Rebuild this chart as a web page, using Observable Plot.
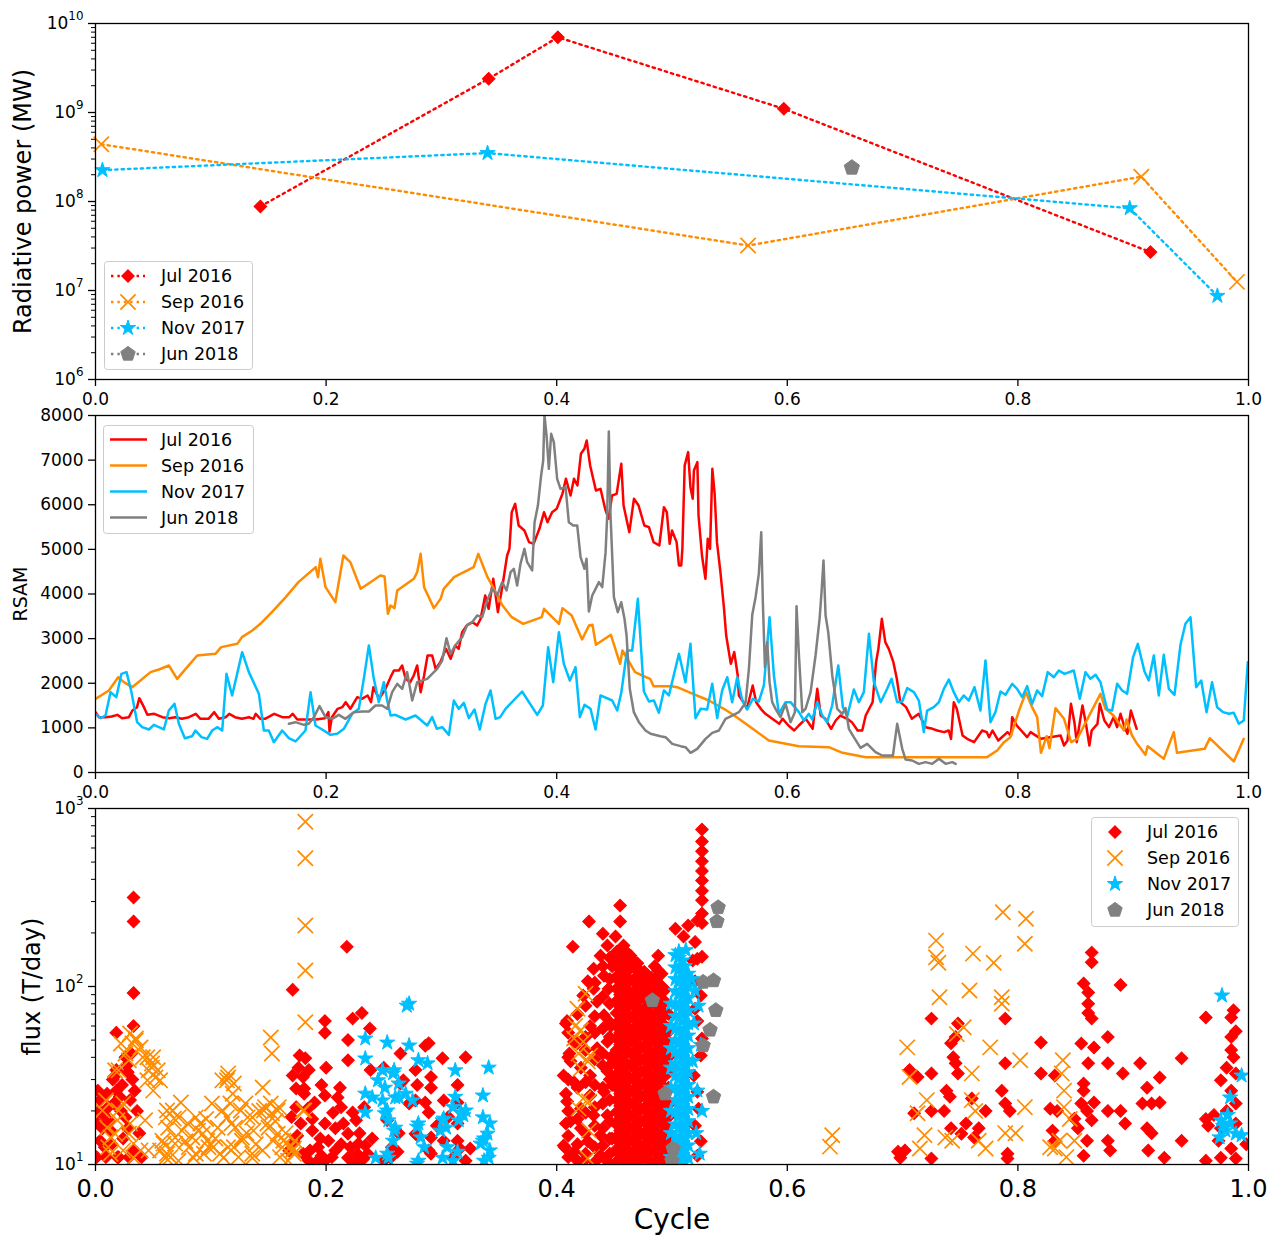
<!DOCTYPE html>
<html>
<head>
<meta charset="utf-8">
<script src="https://cdn.jsdelivr.net/npm/d3@7"></script>
<script src="https://cdn.jsdelivr.net/npm/@observablehq/plot@0.6"></script>
<style>
html,body{margin:0;padding:0;background:#fff;}
#wrap{position:relative;width:1268px;height:1236px;overflow:hidden;font-family:"DejaVu Sans",sans-serif;background:#fff;}
.pnl{position:absolute;left:0;}
</style>
</head>
<body>
<div id="wrap"></div>
<script>
// ---------- categories / ticks ----------
const seriesNames = ["Jul 2016", "Sep 2016", "Nov 2017", "Jun 2018"];
const seriesColors = ["#ff0000", "#ff8c00", "#00bfff", "#808080"];
const xTicks = [0, 0.2, 0.4, 0.6, 0.8, 1.0];
const powerTicks = [1e6, 1e7, 1e8, 1e9, 1e10];
const rsamTicks = [0, 1000, 2000, 3000, 4000, 5000, 6000, 7000, 8000];
const fluxTicks = [10, 100, 1000];

// ---------- panel 1: radiative power [cycle, MW] ----------
const powerJul = [[0.143, 8.8e7], [0.341, 2.4e9], [0.401, 7.0e9], [0.597, 1.1e9], [0.915, 2.7e7]];
const powerSep = [[0.005, 4.4e8], [0.566, 3.2e7], [0.907, 1.9e8], [0.990, 1.25e7]];
const powerNov = [[0.006, 2.25e8], [0.340, 3.5e8], [0.897, 8.4e7], [0.973, 8.7e6]];
const powerJun = [[0.656, 2.4e8]];

// ---------- panel 2: RSAM [cycle, RSAM] ----------
const rsamJul = [[0,1352],[0.003,1240],[0.009,1240],[0.014,1255],[0.019,1292],[0.023,1218],[0.029,1240],[0.032,1390],[0.036,1464],[0.038,1666],[0.042,1464],[0.045,1292],[0.051,1315],[0.058,1240],[0.064,1218],[0.069,1240],[0.075,1203],[0.081,1240],[0.087,1315],[0.091,1203],[0.098,1203],[0.103,1352],[0.107,1203],[0.113,1240],[0.116,1315],[0.121,1240],[0.127,1203],[0.133,1240],[0.137,1203],[0.139,1315],[0.143,1203],[0.147,1203],[0.155,1315],[0.162,1240],[0.168,1240],[0.171,1315],[0.175,1188],[0.182,1188],[0.191,1188],[0.199,1218],[0.202,1352],[0.203,919],[0.205,1240],[0.210,1427],[0.214,1464],[0.217,1576],[0.221,1427],[0.227,1688],[0.231,1651],[0.236,1726],[0.239,1576],[0.241,1912],[0.246,1651],[0.2515,1875],[0.2559,2136],[0.2588,2286],[0.2631,2286],[0.266,2398],[0.269,2099],[0.273,2024],[0.276,2174],[0.279,2398],[0.282,1800],[0.285,2174],[0.288,2622],[0.292,2622],[0.295,2323],[0.299,2473],[0.304,2771],[0.308,2547],[0.312,2846],[0.315,2771],[0.318,3145],[0.322,3294],[0.327,3369],[0.331,3294],[0.334,3444],[0.338,3967],[0.341,3668],[0.345,4340],[0.349,3593],[0.353,4191],[0.357,4863],[0.359,5012],[0.361,5834],[0.364,6021],[0.367,5535],[0.372,5423],[0.376,5162],[0.380,5124],[0.385,5461],[0.389,5834],[0.392,5610],[0.396,5834],[0.400,5909],[0.405,6245],[0.408,6581],[0.412,6208],[0.415,6581],[0.418,6432],[0.421,7141],[0.424,7253],[0.426,7440],[0.429,6880],[0.434,6320],[0.438,6357],[0.442,5909],[0.445,5685],[0.448,6208],[0.452,6245],[0.456,6917],[0.458,5983],[0.463,5386],[0.467,6133],[0.471,5983],[0.476,5535],[0.480,5498],[0.484,5162],[0.489,5087],[0.493,5946],[0.4955,5834],[0.498,5124],[0.500,5423],[0.504,5162],[0.506,4639],[0.508,4639],[0.509,5012],[0.511,6880],[0.514,7179],[0.516,6394],[0.518,6133],[0.519,6768],[0.522,6955],[0.523,5759],[0.526,4863],[0.529,4340],[0.531,5236],[0.533,5012],[0.535,6805],[0.537,6245],[0.539,5162],[0.542,4489],[0.545,3705],[0.547,3070],[0.551,2435],[0.554,2697],[0.557,2174],[0.558,1726],[0.562,1576],[0.565,1427],[0.570,1950],[0.573,1576],[0.577,1427],[0.581,1315],[0.587,1203],[0.593,1091],[0.596,1203],[0.601,1053],[0.606,941],[0.610,1053],[0.616,1203],[0.622,979],[0.626,1875],[0.629,1277],[0.633,1203],[0.638,979],[0.642,1165],[0.646,1277],[0.652,1203],[0.656,1128],[0.661,941],[0.665,941],[0.668,1277],[0.674,1576],[0.677,2473],[0.679,2771],[0.682,3444],[0.685,2921],[0.688,2771],[0.692,2473],[0.695,2099],[0.698,1576],[0.703,1464],[0.708,1203],[0.714,1315],[0.720,1016],[0.726,979],[0.730,941],[0.736,904],[0.740,941],[0.742,754],[0.7444,1576],[0.747,1427],[0.752,829],[0.756,754],[0.762,680],[0.769,941],[0.773,904],[0.775,792],[0.778,941],[0.783,717],[0.791,904],[0.794,829],[0.795,1240],[0.799,1053],[0.808,792],[0.811,904],[0.820,754],[0.828,792],[0.837,829],[0.840,605],[0.843,717],[0.846,1539],[0.849,1128],[0.851,680],[0.856,1501],[0.859,1091],[0.862,605],[0.864,941],[0.869,1091],[0.871,1539],[0.875,1165],[0.879,1016],[0.883,1240],[0.886,1016],[0.889,1315],[0.892,1053],[0.895,867],[0.898,1389],[0.903,979]];
const rsamSep = [[0,1651],[0.0116,1838],[0.0197,2136],[0.0246,2024],[0.0318,1912],[0.039,2062],[0.0477,2249],[0.055,2308],[0.0636,2398],[0.0708,2099],[0.0795,2361],[0.0882,2622],[0.104,2659],[0.109,2809],[0.123,2883],[0.127,3033],[0.136,3182],[0.143,3332],[0.153,3593],[0.165,3929],[0.176,4265],[0.191,4602],[0.193,4377],[0.195,4788],[0.1995,4153],[0.208,3817],[0.215,4863],[0.221,4714],[0.230,4116],[0.2385,4265],[0.247,4415],[0.2507,4392],[0.2536,3556],[0.2559,3742],[0.2593,3683],[0.2617,4079],[0.2761,4340],[0.279,4489],[0.282,4900],[0.285,4153],[0.2935,3683],[0.2993,3892],[0.302,4116],[0.311,4377],[0.328,4602],[0.332,4900],[0.340,4377],[0.347,4041],[0.353,3742],[0.361,3481],[0.371,3332],[0.387,3481],[0.389,3668],[0.402,3332],[0.405,3683],[0.413,3518],[0.422,2981],[0.428,3294],[0.431,3309],[0.434,2861],[0.447,3085],[0.455,2435],[0.457,2734],[0.468,2249],[0.474,2174],[0.481,2099],[0.484,1935],[0.4995,1935],[0.5045,1912],[0.5146,1800],[0.532,1613],[0.545,1427],[0.554,1277],[0.570,979],[0.584,717],[0.610,590],[0.636,568],[0.648,441],[0.668,344],[0.697,344],[0.7733,344],[0.782,493],[0.788,680],[0.7935,792],[0.801,1389],[0.807,1800],[0.8123,1464],[0.8167,1240],[0.820,441],[0.825,814],[0.8274,545],[0.8326,1442],[0.840,1203],[0.8462,680],[0.8514,754],[0.8716,1763],[0.876,1427],[0.883,1277],[0.892,941],[0.8942,1188],[0.899,829],[0.9034,642],[0.9106,396],[0.9126,590],[0.9265,306],[0.9352,904],[0.938,441],[0.962,530],[0.9664,769],[0.9872,247],[0.9959,754]];
const rsamNov = [[0,1315],[0.0043,1218],[0.0087,1277],[0.013,1800],[0.018,1688],[0.0225,2211],[0.0269,2249],[0.0312,1800],[0.0361,1128],[0.0405,1016],[0.0463,964],[0.0506,1068],[0.0593,964],[0.0636,1389],[0.0685,1539],[0.0723,1091],[0.0775,769],[0.0838,814],[0.0867,941],[0.0919,792],[0.0968,754],[0.1012,941],[0.1055,1016],[0.1099,941],[0.1136,2211],[0.1185,1726],[0.1272,2697],[0.133,2249],[0.1417,1763],[0.146,941],[0.1503,941],[0.1547,680],[0.1619,941],[0.1677,769],[0.1735,695],[0.1821,941],[0.1865,1800],[0.1908,1053],[0.198,941],[0.2038,844],[0.2096,867],[0.2154,979],[0.2226,1315],[0.2284,1427],[0.2327,2099],[0.2371,2846],[0.2414,2099],[0.2457,1576],[0.2501,2024],[0.253,1613],[0.2559,1277],[0.260,1292],[0.269,1188],[0.2775,1277],[0.2877,1053],[0.292,1240],[0.296,979],[0.3007,1016],[0.3065,844],[0.3108,1613],[0.315,1427],[0.3195,1561],[0.3238,1218],[0.3287,1412],[0.3333,964],[0.3383,1539],[0.3426,1838],[0.347,1203],[0.351,1240],[0.3556,1427],[0.370,1815],[0.3831,1292],[0.388,1501],[0.3926,2809],[0.397,2024],[0.4019,3145],[0.4062,2435],[0.4114,2062],[0.4163,2361],[0.4201,1240],[0.4241,1516],[0.4293,1427],[0.4337,964],[0.438,1726],[0.4481,1613],[0.4525,1389],[0.456,1785],[0.461,2734],[0.4655,2734],[0.4704,3892],[0.4756,1815],[0.480,1591],[0.4843,1613],[0.4886,1337],[0.493,1838],[0.4973,1726],[0.506,2659],[0.5117,2024],[0.516,2883],[0.5204,1218],[0.5248,1427],[0.5305,1412],[0.5349,1987],[0.5392,1218],[0.5435,1838],[0.5479,2136],[0.5522,1576],[0.5566,2136],[0.561,1613],[0.5652,1412],[0.5701,1651],[0.5753,1591],[0.5797,1950],[0.5846,3481],[0.5884,2174],[0.5927,1315],[0.5985,1576],[0.6028,1576],[0.6101,1352],[0.6144,1165],[0.6187,1315],[0.6216,1188],[0.626,1576],[0.6303,1277],[0.6346,1128],[0.6389,1501],[0.6442,2398],[0.6482,1464],[0.652,1262],[0.6577,1860],[0.6621,1576],[0.6664,1800],[0.6708,3108],[0.6751,2024],[0.681,1576],[0.6866,1875],[0.6904,2099],[0.6953,1576],[0.6997,1591],[0.704,1890],[0.7098,1800],[0.7141,1613],[0.7184,904],[0.7213,1389],[0.7271,1464],[0.7315,1576],[0.7358,1875],[0.7401,2084],[0.7444,1800],[0.7487,1576],[0.753,1726],[0.7574,1613],[0.7623,1912],[0.7675,1389],[0.7719,2510],[0.7762,1128],[0.7805,1352],[0.7849,1815],[0.7892,1741],[0.795,1987],[0.7993,1875],[0.8037,1688],[0.808,1935],[0.8123,1539],[0.8167,1838],[0.821,1711],[0.8259,2249],[0.8311,2136],[0.8355,2286],[0.8404,2211],[0.8485,2286],[0.8537,1651],[0.8586,2249],[0.8629,2099],[0.8673,2189],[0.8716,2024],[0.8774,1412],[0.8817,1389],[0.8861,1987],[0.8904,1838],[0.8947,1763],[0.8999,2585],[0.904,2883],[0.9098,2263],[0.9135,2062],[0.9179,2622],[0.9222,1726],[0.9265,2637],[0.9309,1875],[0.9358,1741],[0.941,2861],[0.9453,3332],[0.9497,3481],[0.9546,1912],[0.959,2062],[0.9636,1352],[0.9684,2024],[0.9728,1464],[0.978,1352],[0.9829,1315],[0.9872,1337],[0.9916,1091],[0.9959,1165],[0.9994,2473]];
const rsamJun = [[0.1677,1091],[0.1735,1128],[0.1807,1068],[0.185,1091],[0.1894,1240],[0.1943,1487],[0.1995,1240],[0.2053,1203],[0.211,1292],[0.2168,1203],[0.224,1352],[0.2313,1367],[0.2371,1367],[0.2428,1501],[0.2486,1501],[0.253,1427],[0.2573,1800],[0.2617,1987],[0.266,1875],[0.2703,2249],[0.2747,1613],[0.279,2024],[0.2877,2099],[0.2963,2323],[0.3007,2510],[0.3044,3010],[0.3079,2659],[0.312,2846],[0.318,3033],[0.3224,3309],[0.3267,3369],[0.331,3518],[0.3354,3481],[0.3397,3855],[0.344,4116],[0.3484,3967],[0.3527,4265],[0.3565,4079],[0.36,4489],[0.3628,4564],[0.3657,4191],[0.3686,4676],[0.372,5012],[0.3744,4714],[0.3787,4527],[0.3808,5610],[0.3837,5983],[0.3865,6656],[0.3883,6992],[0.3894,8000],[0.3912,7552],[0.3932,6805],[0.3952,7590],[0.3975,7403],[0.4004,6581],[0.4033,6357],[0.4077,6394],[0.4105,5610],[0.4143,5535],[0.4178,5535],[0.4207,4826],[0.4241,4564],[0.4259,4788],[0.4279,3608],[0.4308,3967],[0.4337,4116],[0.4366,4265],[0.4395,4153],[0.4424,4938],[0.4438,5759],[0.4452,7642],[0.4467,5759],[0.4496,3929],[0.453,3593],[0.456,3817],[0.4588,3444],[0.4606,3070],[0.4634,1875],[0.4669,1352],[0.4713,1128],[0.477,941],[0.4814,867],[0.49,814],[0.4944,792],[0.5002,642],[0.5074,590],[0.5117,568],[0.5161,441],[0.5219,530],[0.5291,754],[0.5349,889],[0.5407,941],[0.5464,1203],[0.5522,1277],[0.558,1352],[0.5638,1561],[0.5667,2323],[0.5696,3533],[0.5725,3929],[0.5753,4452],[0.5774,5386],[0.5788,3817],[0.5806,2361],[0.5826,2921],[0.5846,2024],[0.5869,1576],[0.5898,1427],[0.5941,1240],[0.5985,1539],[0.6028,1128],[0.6066,1352],[0.608,3727],[0.6101,2622],[0.613,1352],[0.6158,1427],[0.6202,1800],[0.6245,2622],[0.628,3444],[0.6297,4041],[0.6314,4751],[0.6332,3518],[0.6355,3145],[0.639,2174],[0.6433,1427],[0.6476,1315],[0.6505,1442],[0.6534,979],[0.6577,792],[0.6635,553],[0.6693,642],[0.6765,456],[0.6823,381],[0.6916,381],[0.6953,1091],[0.6997,530],[0.7026,291],[0.7083,269],[0.7141,194],[0.7199,232],[0.7257,194],[0.7315,306],[0.7373,194],[0.7431,232],[0.746,194]];

// ---------- panel 3: flux [cycle, T/day] ----------
const fluxJul = [
[0.033,316],[0.033,232],[0.033,92],[0.033,60],[0.018,55],[0.031,42],[0.026,40],[0.027,36],[0.018,34],[0.028,33],[0.016,31],[0.015,30],[0.032,30],[0.023,28],[0.018,26],[0.034,26],[0.002,26],[0.010,25],[0.021,24],[0.004,23],[0.030,23],[0.016,22],[0.011,21],[0.003,20],[0.022,20],[0.036,20],[0.007,19],[0.026,18.4],[0.012,17.5],[0.002,17],[0.006,16],[0.028,16],[0.013,15.5],[0.038,15],[0.024,14],[0.004,13.6],[0.014,13],[0.008,12.5],[0.033,12],[0.009,11],[0.019,11],[0.020,11],[0.029,11],[0.040,11],[0.001,11],
[0.218,167],[0.171,96],[0.231,71],[0.223,66],[0.199,64],[0.238,58],[0.199,55],[0.219,50],[0.177,41],[0.182,39.5],[0.219,38.5],[0.176,35],[0.185,34],[0.2385,34],[0.171,31.6],[0.180,31],[0.174,26.7],[0.181,26.7],[0.181,25],[0.199,24.4],[0.210,23.8],[0.190,22.3],[0.174,21],[0.213,21],[0.184,20.6],[0.223,19.6],[0.170,18.5],[0.178,17],[0.199,17],[0.215,17],[0.226,17.7],[0.208,16],[0.188,15.5],[0.219,14.9],[0.175,14.5],[0.202,13.6],[0.228,13.1],[0.234,12.8],[0.193,12.5],[0.168,12],[0.208,12],[0.180,11.5],[0.227,11.5],[0.196,11.2],[0.219,10.9],[0.232,10.7],[0.185,10.5],[0.199,10.5],
[0.172,13.5],[0.186,12],[0.195,14],[0.205,11],[0.213,13],[0.221,12.5],[0.229,15],[0.236,11.5],[0.240,14],[0.188,18],[0.206,19.5],[0.233,21],[0.196,28],[0.212,27],[0.200,35],[0.192,10.4],[0.225,10.3],
[0.289,48],[0.286,46.5],[0.2645,42],[0.301,39.5],[0.321,40],[0.250,35],[0.2775,34],[0.291,31],[0.267,29.7],[0.2645,28.5],[0.279,28],[0.314,28],[0.291,27],[0.302,22.9],[0.2775,22.9],[0.272,22],[0.286,22.3],[0.314,22.3],[0.289,19.6],[0.306,18.5],[0.253,17.7],[0.314,17],[0.296,16.5],[0.263,15],[0.2775,14.9],[0.279,14.6],[0.291,14.2],[0.302,13.6],[0.314,13.6],[0.257,12.5],[0.316,12.3],[0.325,12.3],[0.289,12],[0.262,11.8],[0.291,11.5],[0.256,10.9],[0.310,10.9],[0.321,10.5],[0.250,10.5],
[0.455,285],[0.428,232],[0.455,232],[0.440,198],[0.451,191],[0.444,170],[0.414,167],[0.453,157],[0.438,149],[0.432,126],[0.441,115],[0.427,107],[0.432,97],[0.445,97],[0.423,89],[0.435,82],[0.441,69],[0.409,64],[0.408,62],[0.429,60],[0.415,49],[0.444,49],[0.435,45],[0.411,42],[0.412,38],[0.421,35],[0.444,33.4],[0.406,31.6],[0.429,31.6],[0.415,29],[0.441,25.6],[0.408,25],[0.429,24.4],[0.409,22.6],[0.421,20.6],[0.432,18.9],[0.444,18.9],[0.412,17.5],[0.408,17],[0.421,16],[0.438,14.6],[0.427,13.5],[0.406,12.8],[0.407,12.5],[0.415,11.8],[0.438,11.2],[0.423,10.4],[0.444,10.4],[0.448,130],[0.447,60],[0.447,40],[0.448,28],[0.448,14],
[0.410,55],[0.410,40],[0.410,30],[0.410,20],[0.410,14.5],[0.410,11],
[0.418,70],[0.418,48],[0.418,27],[0.418,18],[0.418,13],[0.418,10.5],
[0.425,78],[0.425,52],[0.425,44],[0.425,29],[0.425,19.5],[0.425,15],[0.425,11.5],
[0.433,105],[0.433,68],[0.433,55],[0.433,39],[0.433,28],[0.433,21],[0.433,16.5],[0.433,12.5],[0.433,10.3],
[0.440,130],[0.440,88],[0.440,58],[0.440,42],[0.440,36],[0.440,27],[0.440,22],[0.440,16],[0.440,12.8],
[0.446,145],[0.446,110],[0.446,80],[0.446,63],[0.446,52],[0.446,36],[0.446,30],[0.446,23],[0.446,17.5],[0.446,14],[0.446,11.5],
[0.452,157],[0.452,134],[0.452,114],[0.452,97],[0.452,83],[0.452,71],[0.452,60],[0.452,51],[0.452,44],[0.452,37],[0.452,32],[0.452,27],[0.452,23],[0.452,19.7],[0.452,16.8],[0.452,14.3],[0.452,12.2],[0.452,10.4],
[0.455,146],[0.455,124],[0.455,106],[0.455,90],[0.455,77],[0.455,65],[0.455,55],[0.455,47],[0.455,40.5],[0.455,34.5],[0.455,29.5],[0.455,25],[0.455,21.3],[0.455,18.2],[0.455,15.5],[0.455,13.2],[0.455,11.3],
[0.458,170],[0.458,140],[0.458,118],[0.458,100],[0.458,86],[0.458,73],[0.458,62],[0.458,53],[0.458,45],[0.458,38],[0.458,33],[0.458,28],[0.458,24],[0.458,20.4],[0.458,17.4],[0.458,14.8],[0.458,12.6],[0.458,10.7],
[0.461,155],[0.461,130],[0.461,111],[0.461,94],[0.461,80],[0.461,68],[0.461,58],[0.461,50],[0.461,43],[0.461,36.5],[0.461,31],[0.461,26.5],[0.461,22.5],[0.461,19.3],[0.461,16.4],[0.461,14],[0.461,11.9],[0.461,10.2],
[0.464,149],[0.464,127],[0.464,108],[0.464,92],[0.464,79],[0.464,67],[0.464,57],[0.464,49],[0.464,42],[0.464,36],[0.464,30.5],[0.464,26],[0.464,22],[0.464,18.8],[0.464,16],[0.464,13.7],[0.464,11.7],[0.464,10.2],
[0.467,128],[0.467,108],[0.467,92],[0.467,79],[0.467,67],[0.467,57],[0.467,48.5],[0.467,41],[0.467,35],[0.467,30],[0.467,25.5],[0.467,21.7],[0.467,18.5],[0.467,15.8],[0.467,13.5],[0.467,11.5],
[0.470,135],[0.470,115],[0.470,98],[0.470,84],[0.470,72],[0.470,61],[0.470,52],[0.470,44],[0.470,38],[0.470,32],[0.470,27.5],[0.470,23.5],[0.470,20],[0.470,17],[0.470,14.5],[0.470,12.4],[0.470,10.6],
[0.473,118],[0.473,100],[0.473,86],[0.473,73],[0.473,62],[0.473,53],[0.473,45],[0.473,38.5],[0.473,33],[0.473,28],[0.473,24],[0.473,20.4],[0.473,17.4],[0.473,14.8],[0.473,12.6],[0.473,10.8],
[0.476,121],[0.476,102],[0.476,87],[0.476,75],[0.476,64],[0.476,54],[0.476,46],[0.476,39],[0.476,33.5],[0.476,28.5],[0.476,24.3],[0.476,20.7],[0.476,17.6],[0.476,15],[0.476,12.8],[0.476,10.9],
[0.479,108],[0.479,92],[0.479,78],[0.479,67],[0.479,57],[0.479,48.5],[0.479,41],[0.479,35],[0.479,30],[0.479,25.5],[0.479,21.7],[0.479,18.5],[0.479,15.8],[0.479,13.5],[0.479,11.5],
[0.482,112],[0.482,96],[0.482,82],[0.482,70],[0.482,60],[0.482,51],[0.482,43],[0.482,37],[0.482,31.5],[0.482,27],[0.482,23],[0.482,19.5],[0.482,16.6],[0.482,14.2],[0.482,12.1],[0.482,10.3],
[0.485,130],[0.485,110],[0.485,94],[0.485,80],[0.485,68],[0.485,58],[0.485,49.5],[0.485,42],[0.485,36],[0.485,30.5],[0.485,26],[0.485,22.2],[0.485,19],[0.485,16.2],[0.485,13.8],[0.485,11.8],[0.485,10.1],
[0.488,149],[0.488,123],[0.488,105],[0.488,90],[0.488,77],[0.488,65],[0.488,56],[0.488,47],[0.488,40],[0.488,34.5],[0.488,29.5],[0.488,25],[0.488,21.3],[0.488,18.2],[0.488,15.5],[0.488,13.2],[0.488,11.3],
[0.491,118],[0.491,100],[0.491,85],[0.491,72],[0.491,61.5],[0.491,52.5],[0.491,44.5],[0.491,38],[0.491,32.5],[0.491,27.5],[0.491,23.5],[0.491,20],[0.491,17],[0.491,14.5],[0.491,12.4],[0.491,10.6],
[0.494,96],[0.494,82],[0.494,70],[0.494,60],[0.494,51],[0.494,43.5],[0.494,37],[0.494,31.5],[0.494,26.8],[0.494,22.8],[0.494,19.5],[0.494,16.6],[0.494,14.1],[0.494,12],[0.494,10.3],
[0.497,70],[0.497,58],[0.497,48],[0.497,40],[0.497,33],[0.497,27],[0.497,22.5],[0.497,18.5],[0.497,15.2],[0.497,12.5],[0.497,10.5],
[0.462,149],[0.467,138],[0.473,121],
[0.526,762],[0.526,652],[0.526,575],[0.526,505],[0.526,446],[0.526,394],[0.526,345],[0.526,305],[0.526,257],[0.526,227],[0.522,235],[0.514,220],[0.503,211],[0.510,191],[0.520,178],[0.518,140],[0.522,143],[0.526,147],[0.520,107],[0.525,89],[0.520,75],[0.522,64],[0.526,51],[0.525,41],[0.519,31.6],[0.522,25.6],[0.523,20.6],[0.520,16.5],[0.525,13.5],[0.522,11.2],[0.496,55],[0.497,35],[0.498,22],[0.498,14],[0.499,11],
[0.725,66],[0.748,62],[0.746,52],[0.742,48],[0.744,40],[0.746,37],[0.748,32.5],[0.738,26],[0.741,24],[0.736,20],[0.725,20],[0.725,32.5],[0.713,31],[0.706,34],[0.710,19.4],[0.702,12],[0.696,11.8],[0.698,10.9],[0.725,10.8],[0.742,16],[0.751,14.9],[0.755,17],[0.762,14.2],[0.766,16],[0.760,23.5],[0.772,20],[0.789,66],[0.789,37],[0.786,26],[0.789,22],[0.791,11.5],[0.791,10.8],[0.793,20],[0.820,48.4],[0.820,32.5],[0.832,31.6],[0.828,20.6],[0.834,20],[0.830,15.5],[0.832,13.6],[0.849,18.1],[0.855,47.8],[0.857,104],[0.861,92.5],[0.864,155],[0.864,137],[0.861,80],[0.861,71],[0.864,66],[0.861,37],[0.857,28.5],[0.857,26],[0.855,22],[0.860,20],[0.864,17.7],[0.866,22.3],[0.852,16],[0.860,13.6],[0.857,11.2],[0.866,45.4],[0.878,52],[0.878,37],[0.889,102],[0.891,32.5],[0.878,20],[0.878,13.6],[0.880,12],[0.889,20],[0.893,17],[0.906,37],[0.912,27],[0.908,22],[0.916,22],[0.923,30.8],[0.923,22.3],[0.912,16],[0.916,15],[0.927,10.9],[0.913,12],[0.942,39.5],[0.942,13.6],[0.963,67],[0.987,73.5],[0.985,67],[0.989,56],[0.985,52],[0.985,44],[0.987,40],[0.981,35],[0.989,32.5],[0.976,29.7],[0.985,26],[0.989,22],[0.981,20],[0.970,19],[0.963,18],[0.965,16.5],[0.976,16],[0.989,17],[0.974,13.6],[0.985,12.3],[0.976,10.9],[0.963,10.5],[0.989,10.8],[0.998,13]
];
const fluxSep = [
[0.017,33.8],[0.022,47.8],[0.030,54.5],[0.035,51],[0.026,42],[0.039,45.4],[0.045,40],[0.050,40],[0.049,35],[0.054,33.8],[0.056,29.7],[0.045,29.7],[0.024,22],[0.020,20.1],[0.019,17.7],[0.030,17],[0.010,16.1],[0.013,14.2],[0.033,13.1],[0.024,12],[0.013,11.5],[0.033,10.9],[0.039,12],[0.050,26],[0.062,20.1],[0.067,20.1],[0.068,18.1],[0.074,22.3],[0.069,14.2],[0.059,13.1],[0.062,11.5],[0.080,17],[0.084,14.2],[0.091,17],[0.097,13.6],[0.102,12.5],[0.094,11.5],[0.085,10.9],[0.111,10.9],[0.106,16.1],[0.114,18.4],[0.117,22],[0.114,29.7],[0.115,32.5],[0.120,28.5],[0.126,20.1],[0.132,18.4],[0.137,15.5],[0.127,14.2],[0.120,12.5],[0.136,11.5],[0.145,27.1],[0.146,20.1],[0.152,22],[0.158,20.1],[0.149,17],[0.154,13.6],[0.163,13.6],[0.169,12.5],[0.172,11.5],[0.167,10.5],[0.152,51.7],[0.153,42],[0.182,843],[0.182,526],[0.182,220],[0.182,123],[0.182,63],[0.181,20.1],[0.172,12.3],
[0.061,18.4],[0.072,18.4],[0.063,16.1],[0.075,15.5],[0.058,13.6],[0.069,13.1],[0.081,12.5],[0.061,10.9],[0.072,10.5],[0.087,18.4],[0.093,14.9],[0.087,11.5],[0.101,22],[0.098,12.5],[0.110,29.7],[0.115,30.8],[0.119,25],[0.110,20.1],[0.121,16.1],[0.115,12.5],[0.130,22],[0.127,13.6],[0.136,18.4],[0.147,21],[0.153,19.4],[0.159,21],[0.150,16.1],[0.158,14.9],[0.162,12.5],[0.145,12],[0.136,10.9],[0.173,13.6],[0.171,12],[0.180,20.1],[0.029,38.5],[0.020,33.8],[0.049,36.9],[0.046,33.8],[0.052,30.8],[0.041,40],[0.035,49.8],[0.032,47.8],[0.006,20.1],[0.017,14.9],[0.011,12.5],[0.029,14.9],[0.046,12],[0.043,17.7],[0.009,22.9],
[0.056,12],[0.065,11],[0.078,13.5],[0.089,15.5],[0.096,18],[0.104,14],[0.108,11.5],[0.118,17],[0.124,11],[0.131,15],[0.139,13],[0.142,20],[0.156,17.5],[0.160,11],[0.165,15],
[0.425,91],[0.418,75],[0.416,60],[0.421,57],[0.415,51],[0.423,49],[0.419,42],[0.427,38],[0.421,34.6],[0.429,41],[0.423,23.5],[0.419,20.6],[0.428,22.6],[0.428,15.5],[0.427,10.8],
[0.637,12.6],[0.639,14.6],
[0.729,181],[0.729,146],[0.731,136],[0.732,87],[0.761,153],[0.758,95],[0.779,136],[0.787,261],[0.807,240],[0.806,174],[0.786,87],[0.786,80],[0.704,45.5],[0.706,31],[0.721,23],[0.713,19.4],[0.719,14.6],[0.715,12.3],[0.737,14.2],[0.743,13.6],[0.747,54],[0.753,59],[0.760,32.5],[0.760,23],[0.763,20],[0.766,13.6],[0.772,12.3],[0.776,45.5],[0.789,15],[0.798,15],[0.802,38.5],[0.806,21],[0.839,38.5],[0.838,32.5],[0.840,26],[0.840,21],[0.845,18],[0.836,13.6],[0.832,12.3],[0.828,12.5],[0.849,13.6],[0.842,11]
];
const fluxNov = [
[0.272,80],[0.270,78],[0.234,51],[0.253,48.4],[0.272,46.6],[0.234,39.4],[0.280,38.5],[0.288,37],[0.312,33.8],[0.341,35],[0.249,33.8],[0.258,32.5],[0.245,29.7],[0.251,27],[0.234,25],[0.240,23.8],[0.249,22.9],[0.260,23.8],[0.269,25],[0.275,22.9],[0.336,24.4],[0.234,19.6],[0.251,19.4],[0.254,17.7],[0.260,16.1],[0.280,17],[0.301,17.7],[0.310,21],[0.317,19.6],[0.315,17.7],[0.336,18.4],[0.340,14.9],[0.336,13.6],[0.304,16.1],[0.305,12.5],[0.314,11.8],[0.258,13.6],[0.282,14.2],[0.285,12.5],[0.243,10.9],[0.254,10.9],[0.280,10.5],[0.301,10.9],[0.310,10.5],[0.341,10.9],[0.337,10.5],[0.312,24],[0.321,20.1],[0.319,18.9],[0.302,18.1],[0.299,15.5],[0.337,14],[0.342,17],[0.334,13.1],[0.342,12],[0.279,16.3],[0.279,10.1],[0.253,11.5],[0.259,15.5],[0.253,20.1],[0.263,23.8],[0.263,28.5],[0.259,33.8],
[0.503,150],[0.503,128],[0.503,110],[0.503,94],[0.503,80],[0.503,68],[0.503,58],[0.503,50],[0.503,43],[0.503,37],[0.503,31.5],[0.503,27],[0.503,23],[0.503,19.7],[0.503,16.8],[0.503,14.3],[0.503,12.2],[0.503,10.4],
[0.506,145],[0.506,124],[0.506,106],[0.506,90],[0.506,77],[0.506,66],[0.506,56],[0.506,48],[0.506,41],[0.506,35],[0.506,30],[0.506,25.5],[0.506,21.8],[0.506,18.6],[0.506,15.9],[0.506,13.6],[0.506,11.6],[0.506,10.1],
[0.509,140],[0.509,120],[0.509,102],[0.509,87],[0.509,75],[0.509,64],[0.509,54],[0.509,46],[0.509,40],[0.509,34],[0.509,29],[0.509,25],[0.509,21.3],[0.509,18.2],[0.509,15.5],[0.509,13.2],[0.509,11.3],
[0.511,130],[0.511,111],[0.511,94],[0.511,80],[0.511,68],[0.511,58],[0.511,50],[0.511,42.5],[0.511,36],[0.511,31],[0.511,26.5],[0.511,22.6],[0.511,19.3],[0.511,16.5],[0.511,14],[0.511,12],[0.511,10.3],
[0.514,118],[0.514,100],[0.514,86],[0.514,73],[0.514,62],[0.514,53],[0.514,45],[0.514,38.5],[0.514,33],[0.514,28],[0.514,24],[0.514,20.5],[0.514,17.5],[0.514,15],[0.514,12.8],[0.514,10.9],
[0.499,80],[0.499,60],[0.499,45],[0.499,35],[0.499,27],[0.499,20],[0.499,15],[0.499,11],
[0.506,157],[0.512,160],[0.517,110],[0.520,95],[0.523,78],[0.519,62],[0.525,47],[0.518,38],[0.522,26],[0.526,20],[0.521,15],[0.524,11.5],
[0.977,89],[0.994,31.6],[0.984,23.8],[0.976,17.7],[0.984,17],[0.980,15.5],[0.975,14.2],[0.989,14.9],[0.994,14.6],[0.978,16.5],[0.982,19]
];
const fluxJun = [[0.540,278],[0.539,232],[0.536,108],[0.527,106],[0.538,73.5],[0.533,57],[0.527,46.6],[0.483,83.5],[0.494,25],[0.536,24],[0.501,12.3],[0.500,10.5]];

// ---------- helpers ----------
const [RED, ORANGE, BLUE, GRAY] = seriesColors;
const pentagon = {
  draw(ctx, size) {
    const R = Math.sqrt(size / Math.PI);
    for (let i = 0; i < 5; i++) {
      const a = -Math.PI / 2 + i * 2 * Math.PI / 5;
      const px = R * Math.cos(a), py = R * Math.sin(a);
      if (i) ctx.lineTo(px, py); else ctx.moveTo(px, py);
    }
    ctx.closePath();
  }
};
const SUP = "⁰¹²³⁴⁵⁶⁷⁸⁹";
const logFmt = v => "10" + String(Math.round(Math.log10(v))).split("").map(c => SUP[+c]).join("");
const minorTicks = (lo, hi) => { const t = []; for (let e = lo; e < hi; e++) for (let k = 2; k < 10; k++) t.push(k * Math.pow(10, e)); return t; };
const X = d => d[0], Y = d => d[1];
const FONT = '"DejaVu Sans", sans-serif';
const common = {
  width: 1268, marginLeft: 95, marginRight: 20,
  x: {domain: [0, 1]},
  style: {fontFamily: FONT, overflow: "visible", background: "transparent", color: "black"}
};
const xAxis = (fs, pad) => Plot.axisX({ticks: xTicks, tickFormat: d3.format(".1f"), tickSize: 7, tickPadding: pad, fontSize: fs, strokeWidth: 1.3, label: null});
const yLabel = (text, dx, fs) => Plot.text([text], {text: d => d, frameAnchor: "left", rotate: -90, dx, fontSize: fs, textAnchor: "middle", lineAnchor: "middle", fill: "black"});
const frame = () => Plot.frame({stroke: "black", strokeWidth: 1.3});

// Marker specs (Plot r; symbol size = PI r^2) with matplotlib-like edge
const MK = {
  jul: {symbol: "diamond2", r: 5.6, fill: RED, stroke: RED, strokeWidth: 1.1},
  sep: {symbol: "times", r: 7.0, stroke: ORANGE, fill: "none", strokeWidth: 1.7},
  nov: {symbol: "star", r: 4.8, fill: BLUE, stroke: BLUE, strokeWidth: 1},
  jun: {symbol: pentagon, r: 7.6, fill: GRAY, stroke: GRAY, strokeWidth: 1}
};

// ---------- panel 1 ----------
const dash = "2.4,4";
const LW1 = 2.4;
const p1 = Plot.plot({
  ...common, height: 410, marginTop: 23, marginBottom: 31,
  y: {type: "log", domain: [1e6, 1e10]},
  marks: [
    Plot.axisY({ticks: minorTicks(6, 10), tickSize: 4, tickFormat: () => "", strokeWidth: 1, label: null}),
    Plot.axisY({ticks: powerTicks, tickSize: 7, tickPadding: 5, tickFormat: logFmt, fontSize: 17, strokeWidth: 1.3, label: null}),
    xAxis(17, 6),
    yLabel("Radiative power (MW)", -72, 24),
    Plot.line(powerJul, {x: X, y: Y, stroke: RED, strokeWidth: LW1, strokeDasharray: dash}),
    Plot.dot(powerJul, {x: X, y: Y, ...MK.jul}),
    Plot.line(powerSep, {x: X, y: Y, stroke: ORANGE, strokeWidth: LW1, strokeDasharray: dash}),
    Plot.dot(powerSep, {x: X, y: Y, ...MK.sep}),
    Plot.line(powerNov, {x: X, y: Y, stroke: BLUE, strokeWidth: LW1, strokeDasharray: dash}),
    Plot.dot(powerNov, {x: X, y: Y, ...MK.nov}),
    Plot.line(powerJun, {x: X, y: Y, stroke: GRAY, strokeWidth: LW1, strokeDasharray: dash}),
    Plot.dot(powerJun, {x: X, y: Y, ...MK.jun, r: 8}),
    frame()
  ]
});

// ---------- panel 2 ----------
const LW2 = 2.5;
const p2 = Plot.plot({
  ...common, height: 395, marginTop: 5, marginBottom: 33,
  y: {domain: [0, 8000]},
  marks: [
    Plot.axisY({ticks: rsamTicks, tickSize: 7, tickPadding: 5, tickFormat: d => String(d), fontSize: 17, strokeWidth: 1.3, label: null}),
    xAxis(17, 6),
    yLabel("RSAM", -75, 19),
    Plot.line(rsamJul, {x: X, y: Y, stroke: RED, strokeWidth: LW2, clip: true}),
    Plot.line(rsamSep, {x: X, y: Y, stroke: ORANGE, strokeWidth: LW2, clip: true}),
    Plot.line(rsamNov, {x: X, y: Y, stroke: BLUE, strokeWidth: LW2, clip: true}),
    Plot.line(rsamJun, {x: X, y: Y, stroke: GRAY, strokeWidth: LW2, clip: true}),
    frame()
  ]
});

// ---------- panel 3 ----------
const p3 = Plot.plot({
  ...common, height: 431, marginTop: 3, marginBottom: 72,
  y: {type: "log", domain: [10, 1000]},
  marks: [
    Plot.axisY({ticks: minorTicks(1, 3), tickSize: 4, tickFormat: () => "", strokeWidth: 1, label: null}),
    Plot.axisY({ticks: fluxTicks, tickSize: 7, tickPadding: 5, tickFormat: logFmt, fontSize: 17, strokeWidth: 1.3, label: null}),
    xAxis(24, 8),
    yLabel("flux (T/day)", -63, 24),
    Plot.text(["Cycle"], {text: d => d, frameAnchor: "bottom", dy: 56, fontSize: 28, textAnchor: "middle", lineAnchor: "middle", fill: "black"}),
    Plot.dot(fluxJul, {x: X, y: Y, ...MK.jul, clip: true}),
    Plot.dot(fluxSep, {x: X, y: Y, ...MK.sep, clip: true}),
    Plot.dot(fluxNov, {x: X, y: Y, ...MK.nov, clip: true}),
    Plot.dot(fluxJun, {x: X, y: Y, ...MK.jun, clip: true}),
    frame()
  ]
});

// render power-of-ten tick labels with a real raised superscript
function fixSup(svg) {
  d3.select(svg).selectAll("text").each(function () {
    const m = this.textContent.match(/^10([⁰¹²³⁴⁵⁶⁷⁸⁹]+)$/);
    if (!m) return;
    const exp = m[1].split("").map(c => SUP.indexOf(c)).join("");
    const t = d3.select(this);
    t.text("10");
    t.append("tspan").attr("font-size", "70%").attr("dy", "-0.72em").text(exp);
  });
}
fixSup(p1); fixSup(p3);

const wrap = document.getElementById("wrap");
[[p1, 0], [p2, 410], [p3, 805]].forEach(([svg, top]) => {
  const d = document.createElement("div");
  d.className = "pnl";
  d.style.top = top + "px";
  d.appendChild(svg);
  wrap.appendChild(d);
});

// ---------- legends ----------
const symFor = [d3.symbolDiamond2, d3.symbolTimes, d3.symbolStar, pentagon];
const mkList = [MK.jul, MK.sep, MK.nov, MK.jun];
function legend({left, top, w, h, rows, lineFrom, lineTo, markX, textX, line, dashed, marker}) {
  const svg = d3.select(wrap).append("svg")
    .attr("width", w).attr("height", h)
    .style("position", "absolute").style("left", left + "px").style("top", top + "px")
    .style("overflow", "visible").style("font-family", FONT);
  svg.append("rect").attr("x", 0.5).attr("y", 0.5).attr("width", w - 1).attr("height", h - 1)
    .attr("rx", 3).attr("fill", "white").attr("fill-opacity", 0.8).attr("stroke", "#cccccc").attr("stroke-width", 1);
  seriesNames.forEach((name, i) => {
    const y = rows[i];
    const col = seriesColors[i];
    if (line) {
      svg.append("line").attr("x1", lineFrom).attr("x2", lineTo).attr("y1", y).attr("y2", y)
        .attr("stroke", col).attr("stroke-width", dashed ? LW1 : LW2)
        .attr("stroke-dasharray", dashed ? dash : null);
    }
    if (marker) {
      const m = mkList[i];
      const path = d3.symbol().type(symFor[i]).size(Math.PI * m.r * m.r)();
      const p = svg.append("path").attr("d", path).attr("transform", `translate(${markX},${y})`);
      if (i === 1) p.attr("fill", "none").attr("stroke", col).attr("stroke-width", m.strokeWidth);
      else p.attr("fill", col).attr("stroke", col).attr("stroke-width", m.strokeWidth);
    }
    svg.append("text").attr("x", textX).attr("y", y).attr("dy", "0.35em")
      .attr("font-size", 17.5).attr("fill", "#000").text(name);
  });
}
legend({left: 104, top: 261, w: 149, h: 109, rows: [15, 41, 67, 93], lineFrom: 7, lineTo: 41, markX: 24, textX: 57, line: true, dashed: true, marker: true});
legend({left: 103, top: 425, w: 151, h: 109, rows: [14.5, 40.5, 66.5, 92.5], lineFrom: 7, lineTo: 44, markX: 0, textX: 58, line: true, dashed: false, marker: false});
legend({left: 1091, top: 817, w: 148, h: 110, rows: [15, 41, 67, 93], markX: 24, textX: 56, line: false, dashed: false, marker: true});
</script>
</body>
</html>
